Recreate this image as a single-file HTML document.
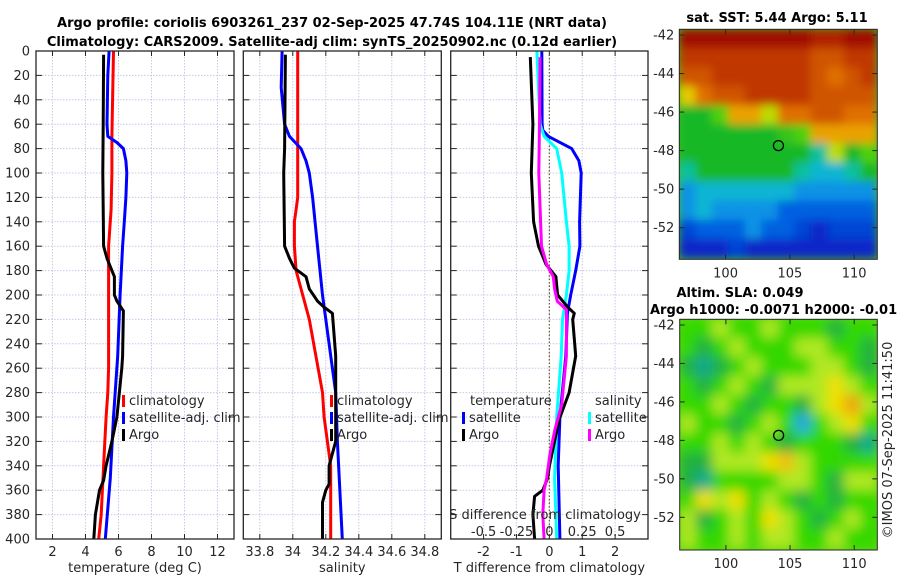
<!DOCTYPE html>
<html><head><meta charset="utf-8"><style>
html,body{margin:0;padding:0;background:#fff;}
svg{display:block;font-family:"DejaVu Sans","Liberation Sans",sans-serif;}
.t{font-size:13px;fill:#262626;}
.b{font-size:13px;font-weight:bold;fill:#000;}
</style></head><body>
<svg id="fig" width="900" height="580" viewBox="0 0 900 580" xmlns="http://www.w3.org/2000/svg">
<defs>
<filter id="blurTop" x="-5%" y="-5%" width="110%" height="110%"><feGaussianBlur stdDeviation="4.5" edgeMode="duplicate"/></filter>
<filter id="blurBot" x="-5%" y="-5%" width="110%" height="110%"><feGaussianBlur stdDeviation="6" edgeMode="duplicate"/></filter>
<clipPath id="clipTop"><rect x="679.3" y="29.3" width="198" height="230"/></clipPath>
<clipPath id="clipBot"><rect x="679.7" y="319.3" width="197.6" height="230.7"/></clipPath>
</defs>
<text class="b" x="332" y="27" text-anchor="middle">Argo profile: coriolis 6903261_237 02-Sep-2025 47.74S 104.11E (NRT data)</text>
<text class="b" x="332" y="46" text-anchor="middle">Climatology: CARS2009. Satellite-adj clim: synTS_20250902.nc (0.12d earlier)</text>
<text class="b" x="777" y="22" text-anchor="middle">sat. SST: 5.44 Argo: 5.11</text>
<text class="b" x="740" y="297" text-anchor="middle">Altim. SLA: 0.049</text>
<text class="b" x="650" y="314">Argo h1000: -0.0071 h2000: -0.01</text>
<text class="t" transform="translate(892,440) rotate(-90)" text-anchor="middle">©IMOS 07-Sep-2025 11:41:50</text>
<g id="plots"></g>
</svg>
<script>
// ---------- profile data ----------
const depthTicks = [0,20,40,60,80,100,120,140,160,180,200,220,240,260,280,300,320,340,360,380,400];
const tempTicks = [2,4,6,8,10,12];
const salTicks = [33.8,34,34.2,34.4,34.6,34.8];
const tdiffTicks = [-2,-1,0,1,2];
const sdiffTicks = [-0.5,-0.25,0,0.25,0.5];
const sdiffTickLabels = ['-0.5','-0.25','0','0.25','0.5'];

const tArgoDepth = [3,60,100,160,170,180,185,200,205,213,250,260,300,320,340,352,360,380,400];
const tArgo      = [5.1,5.07,5.05,5.1,5.3,5.6,5.75,5.75,5.9,6.3,6.25,6.2,5.9,5.6,5.25,5.1,4.85,4.6,4.5];
const tClimDepth = [0,70,100,130,160,180,200,260,280,300,340,380,400];
const tClim      = [5.7,5.6,5.6,5.55,5.4,5.4,5.4,5.4,5.35,5.25,5.1,4.95,4.8];
const tSatDepth  = [0,20,60,70,75,80,90,100,120,140,160,200,250,300,350,400];
const tSat       = [5.43,5.35,5.3,5.35,5.9,6.3,6.45,6.5,6.45,6.35,6.25,6.1,5.95,5.7,5.5,5.2];

const sArgoDepth = [3,80,100,160,170,178,185,195,205,210,215,250,300,320,340,355,360,370,400];
const sArgo      = [33.955,33.95,33.945,33.95,33.98,34.01,34.08,34.1,34.15,34.19,34.24,34.26,34.26,34.26,34.22,34.22,34.2,34.18,34.18];
const sClimDepth = [0,60,120,130,140,160,180,200,220,250,280,300,340,400];
const sClim      = [34.03,34.03,34.03,34.02,34.01,34.01,34.02,34.06,34.1,34.14,34.18,34.19,34.23,34.23];
const sSatDepth  = [0,30,60,70,80,90,100,120,160,200,240,280,320,400];
const sSat       = [33.935,33.93,33.95,33.98,34.05,34.08,34.1,34.12,34.15,34.18,34.22,34.26,34.27,34.3];

const dtArgoDepth = [5,60,100,140,160,175,185,200,210,215,220,250,280,302,340,350,360,365,380,400];
const dtArgo      = [-0.58,-0.5,-0.55,-0.48,-0.33,-0.1,0.2,0.25,0.56,0.76,0.71,0.8,0.6,0.3,0,-0.05,-0.2,-0.45,-0.5,-0.45];
const dtSatDepth  = [0,60,65,70,80,90,100,140,160,180,200,215,250,300,340,400];
const dtSat       = [-0.23,-0.22,-0.2,-0.03,0.68,0.9,0.97,0.92,0.93,0.8,0.65,0.55,0.5,0.32,0.27,0.32];
const dsSatDepth  = [0,60,70,80,100,140,160,180,200,220,250,300,350,400];
const dsSat       = [-0.095,-0.07,-0.04,0.056,0.094,0.13,0.15,0.15,0.13,0.1,0.09,0.056,0.04,0.056];
const dsArgoDepth = [5,60,100,160,175,185,195,205,212,220,250,290,310,330,350,360,380,400];
const dsArgo      = [-0.07,-0.075,-0.08,-0.06,-0.02,0.03,0.04,0.06,0.13,0.13,0.13,0.094,0.043,0.005,-0.02,-0.04,-0.05,-0.04];

// ---------- map data (values on 0..10 colour index) ----------
const mapLons = [96.4,111.8];
const mapLats = [-41.7,-53.6];
const sstGrid = [
 [10,10,10,10,10,10,10,10,9.5,9.5,10,10],
 [9,9,9,9,9,9,9,9,8.5,8.5,9,9],
 [8.5,8.5,9,9,9,9,9,9,8.5,8,8.5,9],
 [7,8,8.5,8.5,9,9,9,9,8.5,8.5,8.5,8.5],
 [5,5,6,7.5,7.5,6.5,8,8,8.5,8.5,8,8],
 [5,5,5,5,5,5,5.5,6,7.5,7.5,7.5,7.5],
 [5,5,5,5,5,5,5,5,4.5,6.5,5,6],
 [4.5,5,5,5,5,5,5,4.5,4,4,4.5,5],
 [3.5,4,4,4,4,4,4,3.5,3.5,3.5,3.5,3.5],
 [3.5,4,3.5,3.5,3.5,3.5,3,3,3,3,3,3],
 [2.5,3,3,3,3.5,3,3,2.5,2,2.5,2.5,2.5],
 [2,2,2,2.5,2,2,2,2,2,2,2,2]];
const slaGrid = [
 [6,6,7,6,6,7,6,6,6,5,6,6],
 [6,5,6,7,6,6,6,7,7,6,6,5],
 [5,4,5,6,7,6,6,6,7,7,6,5],
 [6,5,6,7,6,5,7,7,7,8,7,6],
 [6,6,7,6,5,6,6,5,7,8,9,7],
 [7,6,6,5,6,7,6,3,6,7,8,6],
 [6,6,7,6,7,6,5,6,6,6,5,4],
 [5,5,7,7,7,8,8.5,7,6,6,6,6],
 [5,4,6,6,6,6,7,7,6,5,7,7],
 [6,8,7,8,6,7,6,5,6,5,6,6],
 [7,5,6,7,6,8,7,6,5,6,7,6],
 [7,6,6,7,6,7,7,6,6,7,6,6]];
const argoLon = 104.11, argoLat = -47.74;
const lonTicks = [100,105,110];
const latTicks = [-42,-44,-46,-48,-50,-52];
const latTickLabels = ['-42','-44','-46','-48','-50','-52'];

const NS='http://www.w3.org/2000/svg';
const root=document.getElementById('plots');
function el(tag,attrs,parent){const e=document.createElementNS(NS,tag);for(const k in attrs)e.setAttribute(k,attrs[k]);(parent||root).appendChild(e);return e;}
function txt(s,attrs,parent){const e=el('text',attrs,parent);e.textContent=s;return e;}

const Y0=51,Y1=539;
const yD=d=>Y0+(Y1-Y0)*d/400;
function lin(d0,d1,r0,r1){return v=>r0+(v-d0)*(r1-r0)/(d1-d0);}

function panel(name,x0,x1,xs,ticks,tickLabels,xlabel,showY){
  const g=el('g',{});
  
  
  depthTicks.forEach(d=>{
    const l=el('line',{x1:x0,x2:x1,y1:yD(d),y2:yD(d),stroke:'#c8c8e8','stroke-width':1,'stroke-dasharray':'1.5,1.5'},g);
    
    
  });
  ticks.forEach((t,i)=>{
    const x=xs(t);
    const l=el('line',{x1:x,x2:x,y1:Y0,y2:Y1,stroke:'#c8c8e8','stroke-width':1,'stroke-dasharray':'1.5,1.5'},g);
    
    
    el('line',{x1:x,x2:x,y1:Y1,y2:Y1-5,stroke:'#262626'},g);
    el('line',{x1:x,x2:x,y1:Y0,y2:Y0+5,stroke:'#262626'},g);
    const tl=txt(tickLabels[i],{class:'t',x:x,y:556,'text-anchor':'middle'},g);
    
    
  });
  depthTicks.forEach(d=>{
    el('line',{x1:x0,x2:x0+6,y1:yD(d),y2:yD(d),stroke:'#262626'},g);
    el('line',{x1:x1,x2:x1-6,y1:yD(d),y2:yD(d),stroke:'#262626'},g);
    if(showY){
      const tl=txt(String(d),{class:'t',x:30,y:yD(d)+4.5,'text-anchor':'end'},g);
      
      
    }
  });
  const xl=txt(xlabel,{class:'t',x:(x0+x1)/2,y:572,'text-anchor':'middle'},g);
  
  
  return g;
}
function frame(g,x0,x1){
  const r=el('rect',{x:x0,y:Y0,width:x1-x0,height:Y1-Y0,fill:'none',stroke:'#262626','stroke-width':1.3},g);
  
  
}
function series(g,name,depths,vals,xs,color){
  const pts=depths.map((d,i)=>xs(vals[i]).toFixed(1)+','+yD(d).toFixed(1)).join(' ');
  const p=el('polyline',{points:pts,fill:'none',stroke:color,'stroke-width':3,'stroke-linejoin':'round'},g);
  
  
}
function legend(g,name,x,y,color,label){
  const m=el('rect',{x:x,y:y-10,width:3,height:12,fill:color},g);
  
  
  const t=txt(label,{class:'t',x:x+7,y:y},g);
  
  
}

// Panel 1 temperature
const xT=lin(1,13,36,234);
const g1=panel('temperature-panel',36,234,xT,tempTicks,tempTicks.map(String),'temperature (deg C)',true);
series(g1,'temperature-climatology-line',tClimDepth,tClim,xT,'#ff0000');
series(g1,'temperature-satellite-line',tSatDepth,tSat,xT,'#0000ff');
series(g1,'temperature-argo-line',tArgoDepth,tArgo,xT,'#000000');
legend(g1,'legend-climatology',122,405,'#ff0000','climatology');
legend(g1,'legend-satellite-adj',122,422,'#0000ff','satellite-adj. clim');
legend(g1,'legend-argo',122,439,'#000000','Argo');
frame(g1,36,234);

// Panel 2 salinity
const xS=lin(33.7,34.9,243.3,441.3);
const g2=panel('salinity-panel',243.3,441.3,xS,salTicks,salTicks.map(v=>String(v)),'salinity',false);
series(g2,'salinity-climatology-line',sClimDepth,sClim,xS,'#ff0000');
series(g2,'salinity-satellite-line',sSatDepth,sSat,xS,'#0000ff');
series(g2,'salinity-argo-line',sArgoDepth,sArgo,xS,'#000000');
legend(g2,'legend-climatology',330,405,'#ff0000','climatology');
legend(g2,'legend-satellite-adj',330,422,'#0000ff','satellite-adj. clim');
legend(g2,'legend-argo',330,439,'#000000','Argo');
frame(g2,243.3,441.3);

// Panel 3 differences
const xDT=lin(-3,3,450.7,648);
const xDS=lin(-0.75,0.75,450.7,648);
const g3=panel('difference-panel',450.7,648,xDT,tdiffTicks,tdiffTicks.map(String),'T difference from climatology',false);
const zl=el('line',{x1:xDT(0),x2:xDT(0),y1:Y0,y2:Y1,stroke:'#6b5a2a','stroke-width':1.2,'stroke-dasharray':'1.5,2'},g3);


series(g3,'tdiff-satellite-line',dtSatDepth,dtSat,xDT,'#0000ff');
series(g3,'sdiff-satellite-line',dsSatDepth,dsSat,xDS,'#00ffff');
series(g3,'tdiff-argo-line',dtArgoDepth,dtArgo,xDT,'#000000');
series(g3,'sdiff-argo-line',dsArgoDepth,dsArgo,xDS,'#ff00ff');
const lt=txt('temperature',{class:'t',x:470,y:405},g3);


legend(g3,'legend-t-satellite',462,422,'#0000ff','satellite');
legend(g3,'legend-t-argo',462,439,'#000000','Argo');
const ls=txt('salinity',{class:'t',x:595,y:405},g3);


legend(g3,'legend-s-satellite',588,422,'#00ffff','satellite');
legend(g3,'legend-s-argo',588,439,'#ff00ff','Argo');
const st=txt('S difference from climatology',{class:'t',x:545,y:519,'text-anchor':'middle'},g3);


sdiffTicks.forEach((v,i)=>{
  const t=txt(sdiffTickLabels[i],{class:'t',x:xDS(v),y:536,'text-anchor':'middle'},g3);
  
  
});
frame(g3,450.7,648);

// ---------- maps ----------
function hex(c){return [parseInt(c.slice(1,3),16),parseInt(c.slice(3,5),16),parseInt(c.slice(5,7),16)];}
function cmap(stops,v){
  for(let i=0;i<stops.length-1;i++){
    const [a,ca]=stops[i],[b,cb]=stops[i+1];
    if(v<=b||i===stops.length-2){
      const f=Math.max(0,Math.min(1,(v-a)/(b-a)));const A=hex(ca),B=hex(cb);
      return 'rgb('+A.map((x,k)=>Math.round(x+(B[k]-x)*f)).join(',')+')';
    }
  }
}
const sstStops=[[0,'#00007a'],[2,'#0828c8'],[3,'#0060e0'],[3.8,'#10b0e8'],[4.5,'#10c0a0'],[5,'#18b828'],[6,'#50d010'],[6.6,'#d0e000'],[7.2,'#f0c000'],[8,'#e07000'],[9,'#c03800'],[10,'#a00800']];
const slaStops=[[3,'#20a8e0'],[4,'#10a890'],[5,'#20b040'],[6,'#30d800'],[7,'#b0e820'],[8,'#f0e000'],[9,'#f0a010']];

function drawMap(name,grid,stops,x0,x1,y0,y1,latAt0,latAt1,lat0px,lat1px,clip,filt,bg){
  const g=el('g',{});
  
  
  const xL=lin(mapLons[0],mapLons[1],x0,x1);
  const yL=lin(latAt0,latAt1,lat0px,lat1px);
  const cells=el('g',{'clip-path':'url(#'+clip+')'},g);
  el('rect',{x:x0,y:y0,width:x1-x0,height:y1-y0,fill:bg},cells);
  const inner=el('g',{filter:'url(#'+filt+')'},cells);
  const nr=grid.length,nc=grid[0].length;
  const lonStep=(mapLons[1]-mapLons[0])/nc,latStep=(mapLats[1]-mapLats[0])/nr;
  grid.forEach((row,r)=>row.forEach((v,c)=>{
    const cx=xL(mapLons[0]+c*lonStep),cy=yL(mapLats[0]+r*latStep);
    const cw=xL(mapLons[0]+(c+1)*lonStep)-cx,ch=yL(mapLats[0]+(r+1)*latStep)-cy;
    const rc=el('rect',{x:cx-0.5,y:cy-0.5,width:cw+1,height:ch+1,fill:cmap(stops,v)},inner);
    
    
  }));
  const circ=el('circle',{cx:xL(argoLon),cy:yL(argoLat),r:5,fill:'none',stroke:'#000','stroke-width':1.3},g);
  
  
  lonTicks.forEach(lo=>{
    const x=xL(lo);
    el('line',{x1:x,x2:x,y1:y1,y2:y1-5,stroke:'#262626'},g);
    el('line',{x1:x,x2:x,y1:y0,y2:y0+5,stroke:'#262626'},g);
    const t=txt(String(lo),{class:'t',x:x,y:y1+18,'text-anchor':'middle'},g);
    
    
  });
  latTicks.forEach((la,i)=>{
    const y=yL(la);
    el('line',{x1:x0,x2:x0+5,y1:y,y2:y,stroke:'#262626'},g);
    el('line',{x1:x1,x2:x1-5,y1:y,y2:y,stroke:'#262626'},g);
    const t=txt(latTickLabels[i],{class:'t',x:x0-5,y:y+4.5,'text-anchor':'end'},g);
    
    
  });
  const fr=el('rect',{x:x0,y:y0,width:x1-x0,height:y1-y0,fill:'none',stroke:'#262626','stroke-width':1},g);
  
  
}
drawMap('sst-map',sstGrid,sstStops,679.3,877.3,29.3,259.3,-42,-52,35,227.7,'clipTop','blurTop','#40c020');
drawMap('sla-map',slaGrid,slaStops,679.7,877.3,319.3,550,-42,-52,325,517.3,'clipBot','blurBot','#60d810');
</script>
</body></html>
